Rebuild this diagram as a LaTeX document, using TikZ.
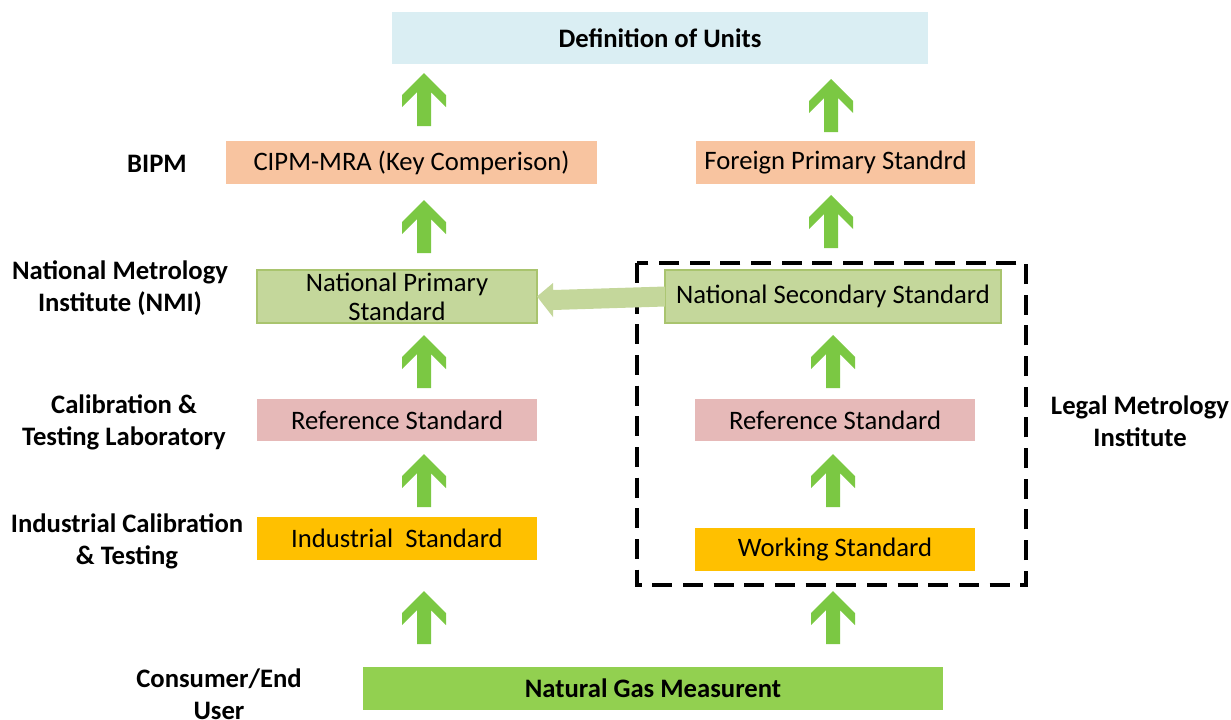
\documentclass[tikz,border=0pt]{standalone}
\usepackage{fontspec}
\setmainfont{Carlito}
\usetikzlibrary{calc}
\definecolor{defblue}{HTML}{DAEEF3}
\definecolor{peach}{HTML}{F8C4A0}
\definecolor{olive}{HTML}{C4D79B}
\definecolor{oliveline}{HTML}{A9C46E}
\definecolor{pinkish}{HTML}{E6B9B8}
\definecolor{amber}{HTML}{FFC000}
\definecolor{gasgreen}{HTML}{92D050}
\definecolor{arrgreen}{HTML}{7BC843}
\tikzset{
  x=0.75pt, y=-0.75pt,
  bx/.style 2 args={minimum width=#1*0.75pt, minimum height=#2*0.75pt, inner sep=0pt, outer sep=0pt, align=center, font=\fontsize{20}{22}\selectfont},
  lbl/.style={align=center, font=\fontsize{20}{24}\selectfont\bfseries},
  uparrow/.pic={\fill[arrgreen] (0,0) -- (-22,22) -- (-22,34) -- (-7,19) -- (-7,53) -- (7,53) -- (7,19) -- (22,34) -- (22,22) -- cycle;}
}
\begin{document}
\begin{tikzpicture}
\useasboundingbox (0,0) rectangle (1231,719);
% boxes
\node[bx={536}{52}, fill=defblue, font=\fontsize{20}{22}\selectfont\bfseries] (def) at (660,38) {\raisebox{-1.5pt}{Definition of Units}};
\node[bx={371}{43}, fill=peach] (cipm) at (411.5,162.5) {\raisebox{-1.5pt}{CIPM-MRA (Key Comperison)}};
\node[bx={279}{43}, fill=peach] (foreign) at (835.5,162.5) {\raisebox{-1.5pt}{Foreign Primary Standrd}};
\node[bx={280}{53}, fill=olive, draw=oliveline, line width=0.8pt] (npri) at (397,296.5) {National Primary\\Standard};
\node[bx={336}{53}, fill=olive, draw=oliveline, line width=0.8pt] (nsec) at (833,296.5) {\raisebox{-1.5pt}{National Secondary Standard}};
\node[bx={280}{42}, fill=pinkish] (ref1) at (397,420) {\raisebox{-1.5pt}{Reference Standard}};
\node[bx={280}{42}, fill=pinkish] (ref2) at (835,420) {\raisebox{-1.5pt}{Reference Standard}};
\node[bx={280}{43}, fill=amber] (ind) at (397,538.5) {\raisebox{-1.5pt}{Industrial\ \ Standard}};
\node[bx={280}{43}, fill=amber] (work) at (835,549.5) {\raisebox{-1.5pt}{Working Standard}};
\node[bx={580}{43}, fill=gasgreen, font=\fontsize{20}{22}\selectfont\bfseries] (gas) at (653,688.5) {\raisebox{-1.5pt}{Natural Gas Measurent}};
% dashed group
\draw[black, line width=2.5pt, dash pattern=on 15pt off 8pt] (637,263) rectangle (1026,585);
% horizontal arrow
\fill[olive] ($(nsec.west)+(0,-10)$) -- (553,290) -- (553,283) -- (npri.east) -- (553,317) -- (553,310) -- ($(nsec.west)+(0,10)$) -- cycle;
% up arrows left
\pic at (424,73) {uparrow};
\pic at (424,200) {uparrow};
\pic at (424,335) {uparrow};
\pic at (424,454) {uparrow};
\pic at (424,591) {uparrow};
% up arrows right
\pic at (831,79) {uparrow};
\pic at (831,195) {uparrow};
\pic at (833,335) {uparrow};
\pic at (833,454) {uparrow};
\pic at (833,591) {uparrow};
% labels
\node[lbl] (lbipm) at (157,164) {BIPM};
\node[lbl] (lnmi) at (120,288) {National Metrology\\Institute (NMI)};
\node[lbl] (lcal) at (124,422) {Calibration \&\\Testing Laboratory};
\node[lbl] (lind) at (127,541) {Industrial Calibration\\\& Testing};
\node[lbl] (lcons) at (219,694) {Consumer/End\\User};
\node[lbl] (llegal) at (1140,421) {Legal Metrology\\Institute};
\end{tikzpicture}
\end{document}
